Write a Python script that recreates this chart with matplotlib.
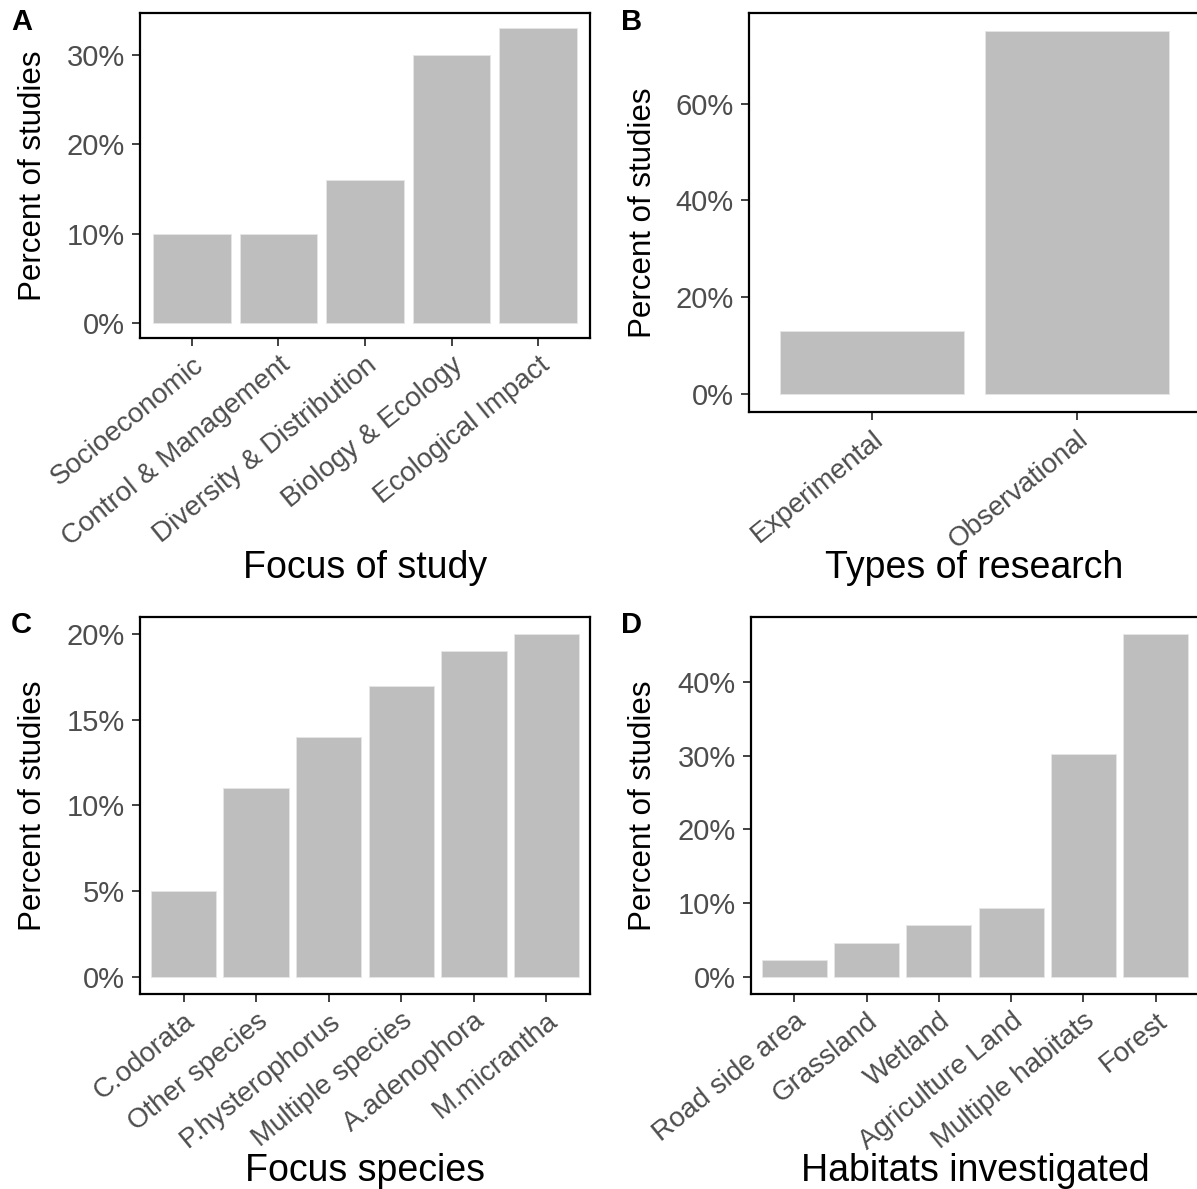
import matplotlib
matplotlib.use("Agg")
import matplotlib.pyplot as plt
from matplotlib.ticker import FuncFormatter
import matplotlib.transforms as mtransforms

plt.rcParams['font.family'] = ['Liberation Sans', 'DejaVu Sans']

# Focus of study
focus_cats = ["Socioeconomic", "Control & Management", "Diversity & Distribution",
              "Biology & Ecology", "Ecological Impact"]
focus_vals = [10, 10, 16, 30, 33]

# Types of research
research_cats = ["Experimental", "Observational"]
research_vals = [13, 75]

# Focus species
species_cats = ["C.odorata", "Other species", "P.hysterophorus", "Multiple species",
                "A.adenophora", "M.micrantha"]
species_vals = [5, 11, 14, 17, 19, 20]

# Habitats investigated
habitat_cats = ["Road side area", "Grassland", "Wetland", "Agriculture Land",
                "Multiple habitats", "Forest"]
habitat_vals = [2.33, 4.65, 6.98, 9.30, 30.23, 46.51]

W, H = 1197, 1189
fig = plt.figure(figsize=(W / 100, H / 100), dpi=100)

BAR = "#BEBEBE"
TICK_COL = "#4D4D4D"


def rect(l, r, t, b):
    return [l / W, 1 - b / H, (r - l) / W, (b - t) / H]


def panel(box, cats, vals, yticks, xlabel, letter, letter_xy, xlabel_y, ylabel_x):
    ax = fig.add_axes(rect(*box))
    n = len(cats)
    ax.bar(range(n), vals, width=0.9, color=BAR, edgecolor="#E6E6E6", linewidth=0.6)
    ax.set_xlim(-0.6, n - 0.4)
    top = max(vals)
    ax.set_ylim(-0.05 * top, 1.05 * top)
    ax.set_yticks(yticks)
    ax.yaxis.set_major_formatter(FuncFormatter(lambda v, p: f"{v:g}%"))
    ax.set_xticks(range(n))
    ax.set_xticklabels(cats, rotation=39, ha="right", va="top", rotation_mode="anchor",
                       fontsize=20)
    offset = mtransforms.ScaledTranslation(17 / 100, -2 / 100, fig.dpi_scale_trans)
    for lab in ax.get_xticklabels():
        lab.set_transform(lab.get_transform() + offset)
    ax.tick_params(axis="both", length=6, width=1.3, color="#333333",
                   labelcolor=TICK_COL, pad=4)
    ax.tick_params(axis="y", labelsize=21, pad=5)
    for s in ax.spines.values():
        s.set_linewidth(1.6)
        s.set_color("black")
    l, r, t, b = box
    fig.text((l + r) / 2 / W, 1 - xlabel_y / H,
             xlabel, ha="center", va="center", fontsize=27, color="black")
    fig.text(ylabel_x / W, 1 - (t + b) / 2 / H, "Percent of studies", rotation=90,
             ha="center", va="center", fontsize=22.5, color="black")
    fig.text(letter_xy[0] / W, 1 - letter_xy[1] / H, letter, ha="left", va="top",
             fontsize=21, fontweight="bold", color="black")
    return ax


panel((140, 590, 13, 338), focus_cats, focus_vals, [0, 10, 20, 30],
      "Focus of study", "A", (11, 8), 568, 33)
panel((749, 1200, 13, 412), research_cats, research_vals, [0, 20, 40, 60],
      "Types of research", "B", (621, 8), 568, 643)
panel((140, 590, 617, 994), species_cats, species_vals, [0, 5, 10, 15, 20],
      "Focus species", "C", (11, 611), 1171, 33)
panel((751, 1199, 617, 994), habitat_cats, habitat_vals, [0, 10, 20, 30, 40],
      "Habitats investigated", "D", (621, 611), 1171, 643)

fig.savefig("out.png", dpi=100)
